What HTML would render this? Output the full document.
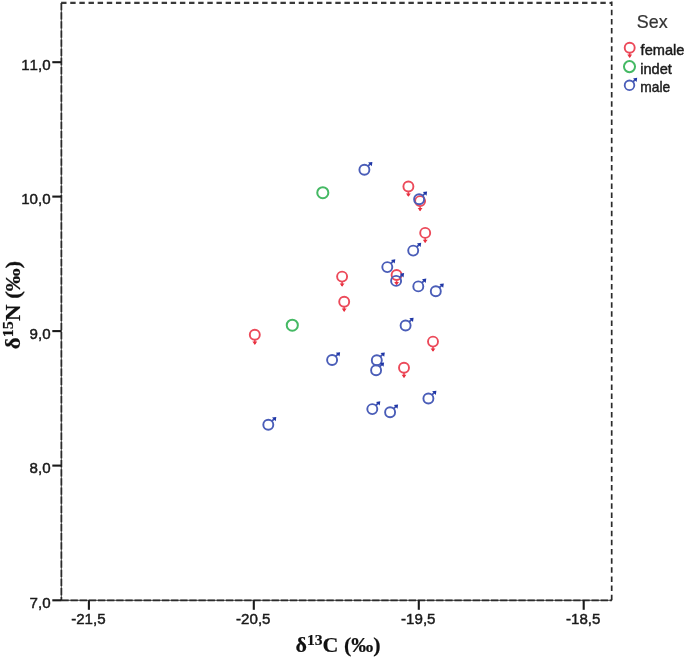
<!DOCTYPE html>
<html><head><meta charset="utf-8"><title>Sex scatter</title>
<style>
html,body{margin:0;padding:0;background:#fff;}
svg{display:block;}
text{font-family:"Liberation Sans",sans-serif;fill:#1a1a1a;stroke:#1a1a1a;stroke-width:0.45px;}
.ax{font-size:15.1px;font-kerning:none;}
.lg{font-size:14.6px;font-kerning:none;}
.lab{font-family:"Liberation Serif",serif;font-weight:bold;font-size:22px;fill:#111;stroke:#111;stroke-width:0.2px;}
</style></head><body>
<svg width="685" height="658" viewBox="0 0 685 658">
<defs>
<g id="m"><circle r="5" fill="none" stroke="#4a5db8" stroke-width="1.9"/><path d="M3.6 -3.6L6.4 -6.4" stroke="#3f53b2" stroke-width="1.8" fill="none"/><path d="M8 -7.8L3.7 -7.2L7.4 -3.5Z" fill="#1f36a6"/></g>
<g id="f"><circle r="5" fill="none" stroke="#ec4a5a" stroke-width="1.9"/><path d="M0 5V9.4" stroke="#ec4a5a" stroke-width="1.6" fill="none"/><path d="M-2.4 6.9L2.4 6.9L0 10.2Z" fill="#e8303f"/></g>
<g id="i"><circle r="5.55" fill="none" stroke="#45b964" stroke-width="2"/></g>
</defs>
<rect width="685" height="658" fill="#fff"/>

<g fill="none" stroke="#6a6a6a" stroke-width="1.2"><path d="M61.4 3V600.3H611.8"/></g>
<g fill="none" stroke="#2b2b2b" stroke-width="1.7">
<path d="M61.1 2.9H607" stroke-dasharray="5.4 3.74" stroke="#3a3a3a" stroke-width="2.1"/>
<path d="M611.7 1.4V600.3" stroke-dasharray="5.5 3.64" stroke-dashoffset="0.8"/><path d="M609.5 2.6L611.7 3.4" />
<path d="M61.4 3V600.3" stroke-dasharray="7.3 1.84"/>
<path d="M61.4 600.3H611.8" stroke-dasharray="7.3 1.84"/>
</g>
<g stroke="#1a1a1a" stroke-width="2.1" fill="none">
<path d="M88.9 600.3V609.8"/>
<path d="M253.8 600.3V609.8"/>
<path d="M418.8 600.3V609.8"/>
<path d="M583.7 600.3V609.8"/>
<path d="M52.3 62.2H61.4"/>
<path d="M52.3 196.6H61.4"/>
<path d="M52.3 331.1H61.4"/>
<path d="M52.3 465.6H61.4"/>
<path d="M52.3 600.3H61.4"/>
</g>
<text class="ax" x="88.4" y="624.4" text-anchor="middle">-21,5</text>
<text class="ax" x="253.3" y="624.4" text-anchor="middle">-20,5</text>
<text class="ax" x="418.3" y="624.4" text-anchor="middle">-19,5</text>
<text class="ax" x="583.2" y="624.4" text-anchor="middle">-18,5</text>
<text class="ax" x="50.6" y="69.7" text-anchor="end">11,0</text>
<text class="ax" x="50.6" y="204.1" text-anchor="end">10,0</text>
<text class="ax" x="50.6" y="338.6" text-anchor="end">9,0</text>
<text class="ax" x="50.6" y="473.1" text-anchor="end">8,0</text>
<text class="ax" x="50.6" y="607.8" text-anchor="end">7,0</text>
<text class="lab" x="295.5" y="652">δ<tspan font-size="15.6px" dy="-6.8">13</tspan><tspan dy="6.8">C (‰)</tspan></text>
<text class="lab" transform="translate(20.2 349.2) rotate(-90) scale(1.04 1)">δ<tspan font-size="15.6px" dy="-6.8">15</tspan><tspan dy="6.8">N (‰)</tspan></text>
<text x="636.8" y="28.2" font-size="17.9px" style="fill:#333;stroke:#333;stroke-width:0.2px">Sex</text>
<use href="#f" transform="translate(629.7 47.7) scale(1.0)"/>
<use href="#i" x="629.5" y="66.6"/>
<use href="#m" transform="translate(629.5 85.3) scale(0.96)"/>
<text class="lg" x="640.6" y="55.1">female</text>
<text class="lg" x="640.2" y="73.9">indet</text>
<text class="lg" x="640.3" y="92" textLength="29.9" lengthAdjust="spacingAndGlyphs">male</text>
<use href="#i" x="322.8" y="192.7"/>
<use href="#i" x="292.3" y="325.2"/>
<use href="#f" x="408.4" y="186.5"/>
<use href="#f" x="420.1" y="201.1"/>
<use href="#f" x="425.2" y="232.9"/>
<use href="#f" x="342.1" y="276.6"/>
<use href="#f" x="396.6" y="275.0"/>
<use href="#f" x="344.2" y="301.7"/>
<use href="#f" x="254.8" y="334.7"/>
<use href="#f" x="433.0" y="341.6"/>
<use href="#f" x="404.0" y="367.8"/>
<use href="#m" x="364.4" y="169.7"/>
<use href="#m" x="419.1" y="199.2"/>
<use href="#m" x="413.2" y="250.6"/>
<use href="#m" x="387.3" y="267.1"/>
<use href="#m" x="396.1" y="280.9"/>
<use href="#m" x="418.3" y="286.4"/>
<use href="#m" x="435.8" y="291.2"/>
<use href="#m" x="405.6" y="325.5"/>
<use href="#m" x="332.1" y="360.0"/>
<use href="#m" x="376.8" y="360.2"/>
<use href="#m" x="376.1" y="370.2"/>
<use href="#m" x="428.4" y="398.5"/>
<use href="#m" x="372.3" y="409.1"/>
<use href="#m" x="390.1" y="412.2"/>
<use href="#m" x="268.3" y="424.7"/>
</svg></body></html>
